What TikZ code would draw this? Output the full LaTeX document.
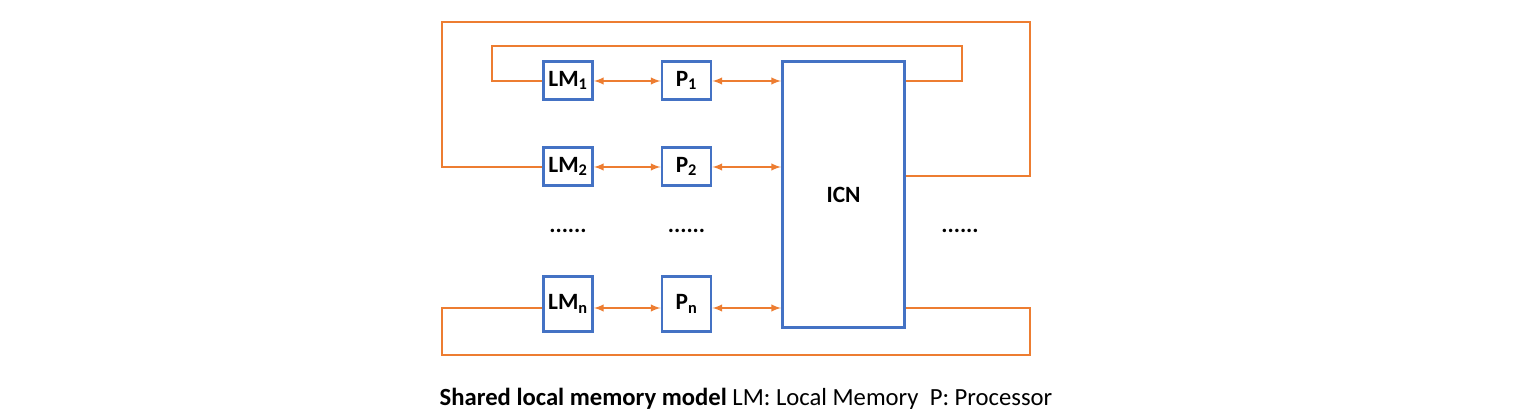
\documentclass[tikz,border=0pt]{standalone}
\usepackage{fontspec}
\setmainfont{Carlito}
\usepackage{tikz}
\definecolor{boxblue}{HTML}{4472C4}
\definecolor{linkorange}{HTML}{ED7D31}

\begin{document}
\begin{tikzpicture}[x=0.75pt,y=-0.75pt,
box/.style={draw=boxblue,line width=2.2pt,fill=white,align=center,font=\fontsize{17.5}{20}\selectfont\bfseries,inner sep=0pt},
unit/.style={box,minimum width=36.75pt,minimum height=28.5pt},
link/.style={draw=linkorange,line width=1.5pt},
dbl/.style={link,latex-latex},
dots/.style={font=\fontsize{17.5}{20}\selectfont\bfseries}]
\useasboundingbox (0,0) rectangle (1532,413);
\node[unit] (LM1) at (568,80.5) {LM\textsubscript{1}};
\node[unit] (P1) at (686.5,80.5) {P\textsubscript{1}};
\node[unit] (LM2) at (568,166.5) {LM\textsubscript{2}};
\node[unit] (P2) at (686.5,166.5) {P\textsubscript{2}};
\node[unit,minimum height=41.25pt] (LMn) at (568,304) {LM\textsubscript{n}};
\node[unit,minimum height=41.25pt] (Pn) at (686.5,304) {P\textsubscript{n}};
\node[box,minimum width=91.5pt,minimum height=199.5pt] (ICN) at (843.5,194.5) {ICN};
\node[dots] (d1) at (568,231) {......};
\node[dots] (d2) at (686.5,231) {......};
\node[dots] (d3) at (960,231) {......};
\coordinate (r1) at (0,81) coordinate (r2) at (0,167) coordinate (r2b) at (0,176)
coordinate (rn) at (0,308);
% links between memories, processors and the network
\draw[dbl] (LM1.east |- r1) -- (P1.west |- r1);
\draw[dbl] (P1.east |- r1) -- (ICN.west |- r1);
\draw[dbl] (LM2.east |- r2) -- (P2.west |- r2);
\draw[dbl] (P2.east |- r2) -- (ICN.west |- r2);
\draw[dbl] (LMn.east |- rn) -- (Pn.west |- rn);
\draw[dbl] (Pn.east |- rn) -- (ICN.west |- rn);
% return paths from the network to the local memories
\draw[link] (ICN.east |- r1) -- (962,81) -- (962,46) -- (492,46) -- (492,81) -- (LM1.west |- r1);
\draw[link] (ICN.east |- r2b) -- (1030,176) -- (1030,22) -- (442,22) -- (442,167) -- (LM2.west |- r2);
\draw[link] (ICN.east |- rn) -- (1030,308) -- (1030,355) -- (442,355) -- (442,308) -- (LMn.west |- rn);
\node[anchor=base,font=\fontsize{18.5}{21}\selectfont] (cap) at (746,406)
{\textbf{Shared local memory model} LM: Local Memory\ \ P: Processor};
\end{tikzpicture}
\end{document}
